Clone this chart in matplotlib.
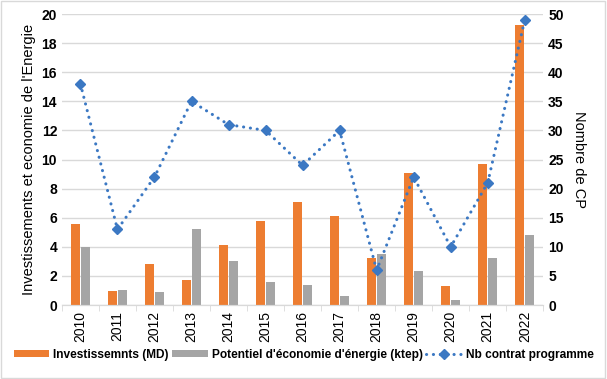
import numpy as np
import matplotlib.pyplot as plt
from matplotlib.patches import Rectangle

plt.rcParams['font.family'] = ['Liberation Sans', 'DejaVu Sans']

years = ["2010", "2011", "2012", "2013", "2014", "2015", "2016",
         "2017", "2018", "2019", "2020", "2021", "2022"]
investissements = [5.6, 1.0, 2.8, 1.75, 4.15, 5.75, 7.05, 6.1, 3.25, 9.1, 1.3, 9.7, 19.25]
potentiel = [4.0, 1.05, 0.9, 5.25, 3.05, 1.6, 1.35, 0.65, 3.5, 2.35, 0.35, 3.25, 4.85]
nb_contrats = [38, 13, 22, 35, 31, 30, 24, 30, 6, 22, 10, 21, 49]

orange = "#ED7D31"
grey = "#A5A5A5"
blue = "#3B78C3"

fig = plt.figure(figsize=(6.07, 3.79), dpi=100)
ax = fig.add_axes([0.102, 0.195, 0.793, 0.768])
ax2 = ax.twinx()

x = np.arange(len(years))
w = 0.245
ax.bar(x - 0.14, investissements, w, color=orange, label="Investissemnts (MD)", zorder=2)
ax.bar(x + 0.14, potentiel, w, color=grey, label="Potentiel d'économie d'énergie (ktep)", zorder=2)
ax2.plot(x, nb_contrats, color=blue, linestyle=(0, (0.05, 2.2)), linewidth=2.2,
         dash_capstyle='round', marker='D', markersize=5, label="Nb contrat programme")

ax.set_xlim(-0.5, len(years) - 0.5)
ax.set_ylim(0, 20)
ax.set_yticks(range(0, 21, 2))
ax2.set_ylim(0, 50)
ax2.set_yticks(range(0, 51, 5))

ax.grid(axis='y', color='#D9D9D9', linewidth=1, zorder=0)
ax.set_axisbelow(True)
for a in (ax, ax2):
    for s in ('top', 'left', 'right'):
        a.spines[s].set_visible(False)
    a.spines['bottom'].set_color('#D9D9D9')
    a.tick_params(axis='y', length=0, labelsize=10)
for lab in ax.get_yticklabels() + ax2.get_yticklabels():
    lab.set_fontweight('bold')

ax.set_xticks(x)
ax.set_xticklabels(years, rotation=90, fontsize=10)
ax.tick_params(axis='x', length=0, pad=4)
ax.set_xticks(np.arange(-0.5, len(years)), minor=True)
ax.tick_params(axis='x', which='minor', length=4, color='#D9D9D9')

ax.set_ylabel("Investissements et economie de l'Energie", fontsize=10.5, labelpad=4)
ax2.set_ylabel("Nombre de CP", fontsize=10.5, rotation=270, labelpad=16)

h1, l1 = ax.get_legend_handles_labels()
h2, l2 = ax2.get_legend_handles_labels()
fig.legend(h1 + h2, l1 + l2, loc='center', bbox_to_anchor=(0.5, 0.063), ncol=3,
           frameon=False, prop={'weight': 'bold', 'size': 8.6}, handlelength=3.0,
           handleheight=0.5, handletextpad=0.3, columnspacing=0.3, borderaxespad=0)

fig.patches.append(Rectangle((0.002, 0.003), 0.995, 0.994, transform=fig.transFigure,
                             fill=False, edgecolor='#D9D9D9', linewidth=1))

fig.savefig("out.png", dpi=100)
